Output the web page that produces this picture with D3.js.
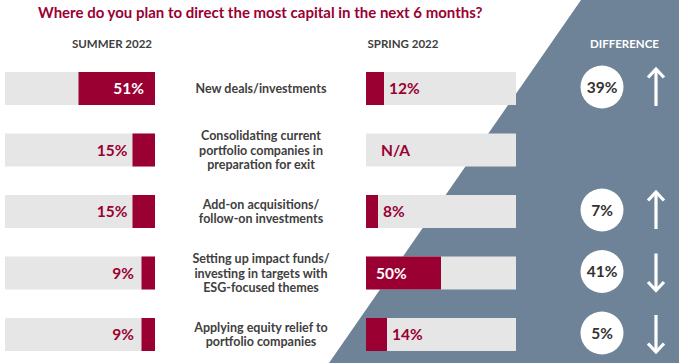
<!DOCTYPE html>
<html>
<head>
<meta charset="utf-8">
<script src="https://cdn.jsdelivr.net/npm/d3@7"></script>
<style>
  body { margin: 0; background: #fff; }
  text { font-family: Lato, "Open Sans", sans-serif; }
</style>
</head>
<body>
<div id="chart"></div>
<script>
const categories = [
  ["New deals/investments"],
  ["Consolidating current", "portfolio companies in", "preparation for exit"],
  ["Add-on acquisitions/", "follow-on investments"],
  ["Setting up impact funds/", "investing in targets with", "ESG-focused themes"],
  ["Applying equity relief to", "portfolio companies"]
];
const summer2022 = [51, 15, 15, 9, 9];
const spring2022 = [12, null, 8, 50, 14];
const difference = [39, null, 7, -41, -5];
const headers = ["SUMMER 2022", "SPRING 2022", "DIFFERENCE"];
const title = "Where do you plan to direct the most capital in the next 6 months?";

const width = 679, height = 363;
const red = "#9a0032", track = "#e6e6e6", slate = "#6e8397", ink = "#404040";
const barH = 33;

const svg = d3.select("#chart")
  .append("svg")
    .attr("width", width)
    .attr("height", height);

// slanted panel behind the difference column
svg.append("path")
  .attr("d", `M581,0 L${width},0 L${width},${height} L329,${height} Z`)
  .attr("fill", slate);

svg.append("text")
  .attr("x", 38).attr("y", 18)
  .attr("font-size", 15).attr("font-weight", 700)
  .attr("fill", red)
  .text(title);

const headerX = [112, 403, 624.5];
svg.selectAll(".hdr")
  .data(headers)
  .enter()
  .append("text")
    .attr("class", "hdr")
    .attr("x", (d, i) => headerX[i])
    .attr("y", 48)
    .attr("text-anchor", "middle")
    .attr("font-size", 11.5).attr("font-weight", 700)
    .attr("fill", (d, i) => i === 2 ? "#fff" : ink)
    .text(d => d);

const rows = d3.range(categories.length);
const y = d3.scalePoint().domain(rows).range([88.5, 334.5]);

const xLeft = d3.scaleLinear().domain([0, 100]).range([155, 5]);
const xRight = d3.scaleLinear().domain([0, 100]).range([366, 516]);

// left bars (Summer 2022), filled from the right
const left = svg.append("g");
left.selectAll(".bg")
  .data(rows).enter().append("rect")
    .attr("x", xLeft(100)).attr("y", i => y(i) - barH / 2)
    .attr("width", xLeft(0) - xLeft(100)).attr("height", barH)
    .attr("fill", track);
left.selectAll(".fg")
  .data(summer2022).enter().append("rect")
    .attr("x", d => xLeft(d)).attr("y", (d, i) => y(i) - barH / 2)
    .attr("width", d => xLeft(0) - xLeft(d)).attr("height", barH)
    .attr("fill", red);
left.selectAll(".val")
  .data(summer2022).enter().append("text")
    .attr("x", d => d >= 30 ? xLeft(0) - 11 : Math.min(xLeft(d) - 5, xLeft(0) - 21))
    .attr("y", (d, i) => y(i))
    .attr("dy", "0.36em")
    .attr("text-anchor", "end")
    .attr("font-size", 15.5).attr("font-weight", 700)
    .attr("fill", d => d >= 30 ? "#fff" : red)
    .text(d => d + "%");

// right bars (Spring 2022)
const right = svg.append("g");
right.selectAll(".bg")
  .data(rows).enter().append("rect")
    .attr("x", xRight(0)).attr("y", i => y(i) - barH / 2)
    .attr("width", xRight(100) - xRight(0)).attr("height", barH)
    .attr("fill", track);
right.selectAll(".fg")
  .data(spring2022.map((v, i) => ({ v, i })).filter(d => d.v != null)).enter().append("rect")
    .attr("x", xRight(0)).attr("y", d => y(d.i) - barH / 2)
    .attr("width", d => xRight(d.v) - xRight(0)).attr("height", barH)
    .attr("fill", red);
right.selectAll(".val")
  .data(spring2022).enter().append("text")
    .attr("x", d => d == null ? xRight(0) + 15
      : d >= 30 ? xRight(0) + 10
      : Math.max(xRight(d) + 5, xRight(0) + 17))
    .attr("y", (d, i) => y(i))
    .attr("dy", "0.36em")
    .attr("font-size", 15.5).attr("font-weight", 700)
    .attr("fill", d => d != null && d >= 30 ? "#fff" : red)
    .text(d => d == null ? "N/A" : d + "%");

// category labels
const lineH = 14.5;
const labels = svg.selectAll(".cat")
  .data(categories).enter().append("text")
    .attr("class", "cat")
    .attr("text-anchor", "middle")
    .attr("font-size", 12.5).attr("font-weight", 700)
    .attr("fill", ink);
labels.each(function(lines, i) {
  const t = d3.select(this);
  const top = y(i) - (lines.length - 1) * lineH / 2;
  lines.forEach((s, k) => {
    t.append("tspan")
      .attr("x", 261)
      .attr("y", top + k * lineH)
      .attr("dy", "0.36em")
      .text(s);
  });
});

// difference circles and arrows
const diffs = difference.map((v, i) => ({ v, i })).filter(d => d.v != null);
const dg = svg.selectAll(".diff")
  .data(diffs).enter().append("g")
    .attr("transform", d => `translate(0, ${y(d.i) - 1.5})`);
dg.append("circle")
  .attr("cx", 602).attr("r", 21.5)
  .attr("fill", "#fff");
dg.append("text")
  .attr("x", 602).attr("dy", "0.36em")
  .attr("text-anchor", "middle")
  .attr("font-size", 15.5).attr("font-weight", 700)
  .attr("fill", "#333")
  .text(d => Math.abs(d.v) + "%");
dg.append("path")
  .attr("d", d => d.v > 0
    ? "M656,19 L656,-18 M648,-9.5 L656,-18 L664,-9.5"
    : "M656,-18 L656,19 M648,10.5 L656,19 L664,10.5")
  .attr("fill", "none")
  .attr("stroke", "#fff")
  .attr("stroke-width", 3.2);
</script>
</body>
</html>
